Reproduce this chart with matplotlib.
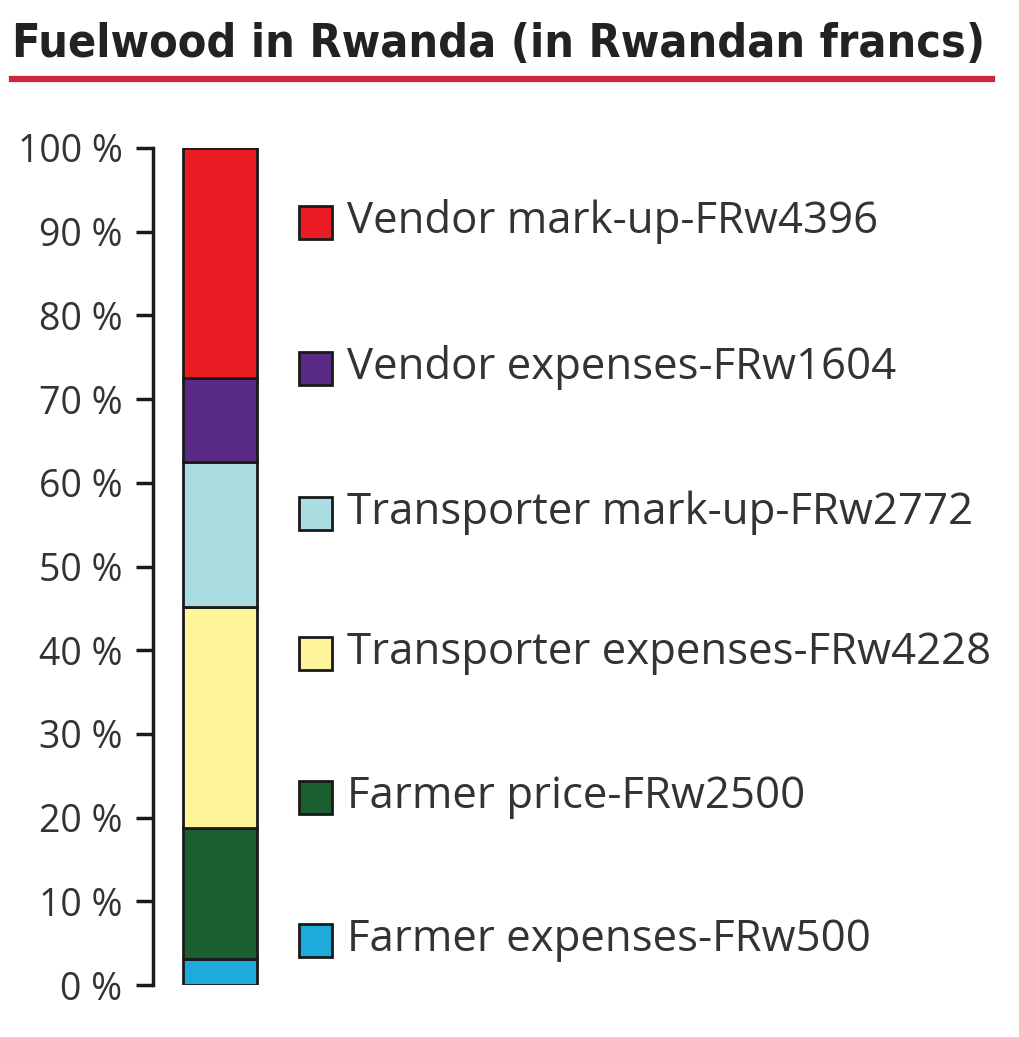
import matplotlib.pyplot as plt
from matplotlib.patches import Rectangle

# Fuelwood price chain (in Rwandan francs), bottom to top
labels = ["Farmer expenses", "Farmer price", "Transporter expenses",
          "Transporter mark-up", "Vendor expenses", "Vendor mark-up"]
values = [500, 2500, 4228, 2772, 1604, 4396]
colors = ["#1eaadb", "#1b5e2f", "#fff59b", "#aadde2", "#5a2b86", "#ec1c24"]

total = sum(values)
shares = [v / total * 100 for v in values]

fig = plt.figure(figsize=(10.2, 10.37), dpi=100)

# title + red rule
fig.text(12 / 1020, 1 - 57 / 1037, "Fuelwood in Rwanda (in Rwandan francs)",
         fontsize=33.5, fontweight="bold", family="DejaVu Sans", fontstretch="condensed",
         color="#222222", ha="left", va="baseline")
fig.add_artist(plt.Line2D([12 / 1020, 992 / 1020], [1 - 79 / 1037] * 2,
                          color="#c8283a", lw=4.5))

ax = fig.add_axes([153 / 1020, 52 / 1037, 134 / 1020, 837 / 1037])
bottom = 0
for s, c in zip(shares, colors):
    ax.bar(0, s, bottom=bottom, width=1.1, color=c, edgecolor="#1a1a1a", lw=2)
    bottom += s

ax.set_xlim(-1, 1)
ax.set_ylim(0, 100)
ax.set_yticks(range(0, 101, 10))
ax.set_yticklabels([f"{t} %" for t in range(0, 101, 10)],
                   fontsize=27, family="Open Sans", color="#333333")
ax.tick_params(axis="y", length=12, width=2.5, pad=10, color="#1a1a1a")
ax.set_xticks([])
for side in ["top", "right", "bottom"]:
    ax.spines[side].set_visible(False)
ax.spines["left"].set_linewidth(2.5)
ax.spines["left"].set_color("#1a1a1a")

# legend, top entry first
rows = [222, 368, 513, 653, 797, 940]
for y, lab, v, c in zip(rows, labels[::-1], values[::-1], colors[::-1]):
    fig.add_artist(Rectangle((299 / 1020, 1 - (y + 17) / 1037), 33 / 1020, 33 / 1037,
                             facecolor=c, edgecolor="#1a1a1a", lw=2))
    fig.text(347 / 1020, 1 - y / 1037, f"{lab}-FRw{v}", fontsize=31.5,
             family="Open Sans", color="#333333", ha="left", va="center")

fig.savefig("out.png", dpi=100)
